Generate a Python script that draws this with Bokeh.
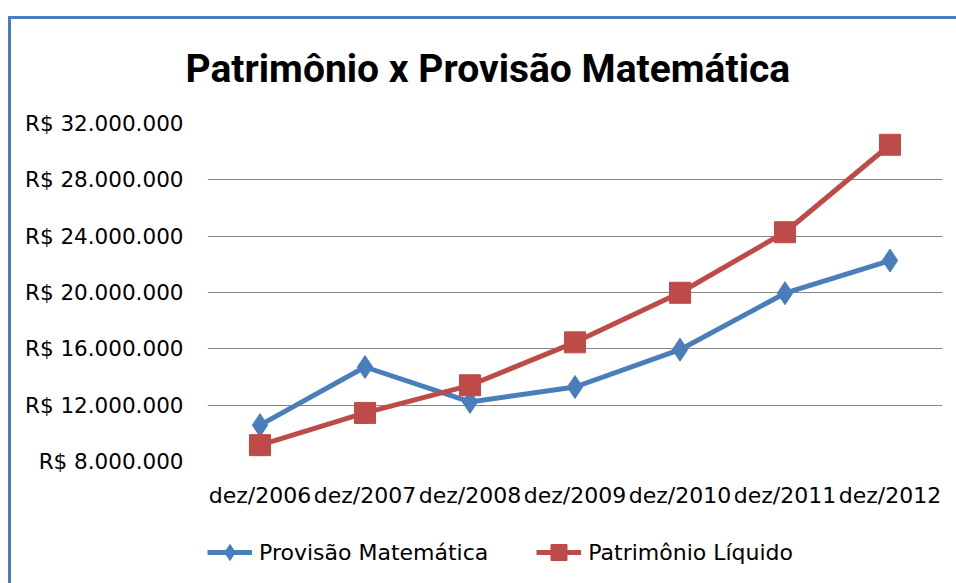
from bokeh.plotting import figure
from bokeh.layouts import column
from bokeh.models import (ColumnDataSource, FactorRange, Range1d, FixedTicker,
                          Legend, LegendItem)
from bokeh.embed import file_html
from bokeh.resources import INLINE

# ---- data ----
periods = ["dez/2006", "dez/2007", "dez/2008", "dez/2009", "dez/2010", "dez/2011", "dez/2012"]
provisao = [10580000, 14710000, 12230000, 13290000, 15940000, 19950000, 22270000]
patrimonio = [9160000, 11450000, 13410000, 16460000, 19980000, 24280000, 30490000]
y_ticks = [8000000, 12000000, 16000000, 20000000, 24000000, 28000000, 32000000]
y_tick_labels = ["R$ 8.000.000", "R$ 12.000.000", "R$ 16.000.000", "R$ 20.000.000",
                 "R$ 24.000.000", "R$ 28.000.000", "R$ 32.000.000"]
series_names = ["Provisão Matemática", "Patrimônio Líquido"]
title_text = "Patrimônio x Provisão Matemática"

BLUE = "#4a7ebb"
RED = "#be4b48"
FONT = "DejaVu Sans"

src = ColumnDataSource(dict(x=periods, prov=provisao, pat=patrimonio))

# ---------------- main chart ----------------
p = figure(frame_width=735, frame_height=338,
           output_backend="svg", toolbar_location=None,
           x_range=FactorRange(*periods, range_padding=0),
           y_range=Range1d(8000000, 32000000),
           min_border_left=207, min_border_right=14,
           min_border_top=123, min_border_bottom=59)

p.title.text = title_text
p.title.text_font = "Roboto"
p.title.text_font_style = "bold"
p.title.text_font_size = "39px"
p.title.text_color = "#000000"
p.title.align = "left"
p.title.offset = -22
p.title.standoff = 63

p.outline_line_color = None
p.background_fill_color = "white"
p.border_fill_color = None

p.yaxis.ticker = FixedTicker(ticks=y_ticks)
p.yaxis.major_label_overrides = {t: l for t, l in zip(y_ticks, y_tick_labels)}
for ax in (p.xaxis[0], p.yaxis[0]):
    ax.axis_line_color = None
    ax.major_tick_line_color = None
    ax.minor_tick_line_color = None
    ax.major_label_text_font = FONT
    ax.major_label_text_color = "#000000"
p.yaxis.major_label_text_font_size = "21.5px"
p.yaxis.major_label_standoff = 18
p.xaxis.major_label_text_font_size = "22px"
p.xaxis.major_label_standoff = 15

p.xgrid.grid_line_color = None
p.ygrid.grid_line_color = "#868686"
p.ygrid.grid_line_width = 1

p.line("x", "prov", source=src, line_color=BLUE, line_width=5)
p.scatter("x", "prov", source=src, marker="diamond", size=23,
          fill_color=BLUE, line_color=BLUE)
p.line("x", "pat", source=src, line_color=RED, line_width=5)
p.scatter("x", "pat", source=src, marker="square", size=21,
          fill_color=RED, line_color=RED)

# ---------------- legend strip ----------------
lg = figure(width=956, height=63, output_backend="svg", toolbar_location=None,
            x_axis_type=None, y_axis_type=None,
            x_range=Range1d(0, 1), y_range=Range1d(0, 1),
            min_border_left=207, min_border_right=14,
            min_border_top=0, min_border_bottom=0)
lg.outline_line_color = None
lg.background_fill_color = None
lg.border_fill_color = None
lg.xgrid.grid_line_color = None
lg.ygrid.grid_line_color = None

# off-range key source: only used to draw the legend swatches
key = ColumnDataSource(dict(x=[-5], y=[-5]))
k1 = lg.line("x", "y", source=key, line_color=BLUE, line_width=5)
k1m = lg.scatter("x", "y", source=key, marker="diamond", size=23,
                 fill_color=BLUE, line_color=BLUE)
k2 = lg.line("x", "y", source=key, line_color=RED, line_width=5)
k2m = lg.scatter("x", "y", source=key, marker="square", size=21,
                 fill_color=RED, line_color=RED)

legend = Legend(items=[LegendItem(label=series_names[0], renderers=[k1, k1m]),
                       LegendItem(label=series_names[1], renderers=[k2, k2m])],
                orientation="horizontal", location=(0, 11),
                glyph_width=45, glyph_height=40, label_standoff=7, spacing=48,
                padding=0, margin=0, border_line_color=None,
                background_fill_alpha=0,
                label_text_font=FONT, label_text_font_size="22px",
                label_text_color="#000000")
lg.add_layout(legend, "center")

page = column(p, lg, spacing=0)
# chart-area border: left and top edges visible (as in the reference)
page.styles = {
    "background": ("linear-gradient(#4a7ebb, #4a7ebb) 8px 16px / 3px 600px no-repeat, "
                   "linear-gradient(#4a7ebb, #4a7ebb) 8px 16px / 960px 3px no-repeat, white"),
}

open("out.html", "w").write(file_html(page, INLINE))
